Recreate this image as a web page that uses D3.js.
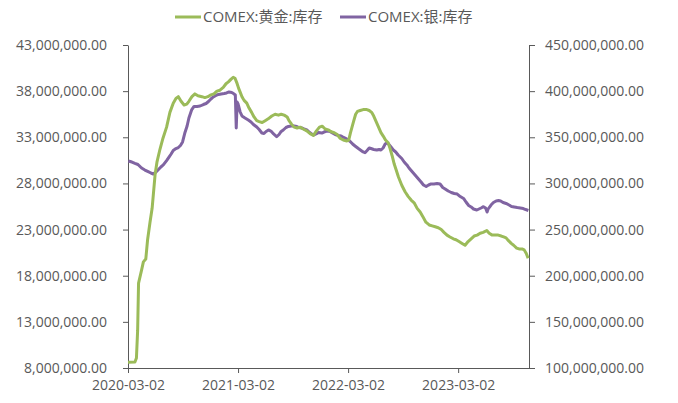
<!DOCTYPE html>
<html>
<head>
<meta charset="utf-8">
<script src="https://cdn.jsdelivr.net/npm/d3@7"></script>
<style>
  body { margin: 0; background: #fff; }
  text { font-family: "Open Sans", "Noto Sans CJK SC", sans-serif; fill: #595959; }
</style>
</head>
<body>
<svg id="chart"></svg>
<script>
// day offset from 2020-03-02, stock in millions
let baseDate = new Date(2020, 2, 2)
let endDay = 1330

let seriesNames = ["COMEX:黄金:库存", "COMEX:银:库存"]
let seriesColors = ["#9bbb59", "#8064a2"]

let goldStock = [[0,8.62],[23,8.65],[28,9.08],[32,12.1],[35,17.2],[45,18.6],[51,19.5],[59,19.8],[65,21.9],[73,23.8],
  [80,25.3],[90,29.0],[96,30.3],[106,31.7],[116,32.9],[128,34.1],[139,35.7],[150,36.7],[159,37.2],[167,37.4],
  [176,36.9],[186,36.5],[195,36.6],[202,36.9],[212,37.4],[222,37.7],[232,37.5],[245,37.4],[255,37.3],[265,37.4],
  [275,37.6],[285,37.7],[295,38.0],[305,38.1],[316,38.4],[325,38.8],[333,39.0],[342,39.3],[349,39.5],[355,39.4],
  [361,38.9],[367,38.3],[372,37.9],[378,37.4],[385,37.0],[394,36.7],[401,36.2],[410,35.7],[418,35.2],[427,34.8],
  [435,34.7],[445,34.6],[455,34.8],[465,35.0],[477,35.3],[488,35.5],[499,35.4],[508,35.5],[518,35.4],[528,35.2],
  [534,34.8],[543,34.4],[551,34.1],[561,34.0],[571,34.1],[581,33.9],[593,33.7],[604,33.4],[615,33.2],[625,33.7],
  [635,34.1],[644,34.2],[654,33.9],[664,33.8],[674,33.6],[684,33.5],[694,33.3],[703,32.9],[714,32.7],[726,32.6],
  [732,32.7],[738,33.5],[743,34.1],[748,34.7],[755,35.5],[761,35.8],[770,35.9],[780,36.0],[792,36.0],[800,35.9],
  [808,35.7],[815,35.3],[823,34.7],[831,34.1],[839,33.5],[847,33.1],[854,32.7],[863,32.4],[869,31.8],[876,31.0],
  [883,30.1],[889,29.5],[897,28.7],[908,27.8],[919,27.1],[929,26.6],[939,26.2],[949,25.9],[959,25.3],[969,24.9],
  [978,24.4],[988,23.8],[999,23.5],[1009,23.4],[1019,23.3],[1029,23.2],[1039,23.0],[1048,22.7],[1058,22.4],[1068,22.2],
  [1079,22.0],[1088,21.9],[1098,21.7],[1108,21.5],[1118,21.3],[1128,21.7],[1138,22.0],[1148,22.3],[1158,22.4],[1168,22.6],
  [1178,22.7],[1190,22.9],[1198,22.6],[1208,22.4],[1218,22.4],[1228,22.4],[1238,22.3],[1246,22.2],[1254,22.1],[1262,21.8],
  [1271,21.5],[1279,21.3],[1289,21.0],[1297,20.9],[1307,20.9],[1314,20.8],[1321,20.4],[1327,19.9]]

let silverStock = [[1,324.3],[13,323.2],[23,321.8],[33,320.5],[45,316.7],[56,314.5],[67,312.7],[76,311.3],[84,310.2],[93,312.4],
  [101,315.1],[109,317.8],[117,320.0],[128,324.8],[136,328.6],[143,331.9],[150,335.7],[159,337.8],[167,338.9],[174,341.1],
  [181,344.9],[189,355.2],[196,362.2],[202,370.9],[211,379.6],[219,383.4],[229,383.4],[239,383.9],[250,385.5],[259,386.6],
  [267,388.8],[275,391.5],[283,393.7],[292,395.3],[300,396.4],[309,396.9],[319,397.4],[327,398.0],[335,399.1],[344,398.5],
  [350,397.4],[356,395.8],[359,360.1],[362,388.2],[365,386.1],[372,377.4],[378,373.1],[388,370.9],[399,368.7],[408,366.6],
  [416,363.9],[427,361.1],[435,358.4],[444,354.6],[451,354.1],[458,356.3],[466,357.9],[474,356.8],[483,353.6],[493,350.6],
  [501,353.0],[508,356.3],[515,357.9],[524,360.6],[532,361.7],[541,362.2],[551,362.2],[560,361.7],[567,360.6],[576,360.1],
  [584,359.0],[593,357.9],[601,355.7],[607,354.1],[615,352.5],[624,353.6],[632,355.2],[643,354.6],[650,355.7],[660,356.8],
  [670,356.3],[678,354.6],[687,353.0],[698,351.9],[707,351.4],[713,350.3],[720,349.2],[728,347.6],[737,345.4],[745,342.7],
  [753,340.6],[764,337.8],[773,335.7],[780,334.1],[786,333.3],[793,335.7],[800,338.4],[806,337.8],[815,336.8],[825,336.2],
  [833,336.8],[839,336.2],[846,338.4],[853,342.7],[858,343.8],[864,342.7],[871,340.0],[880,336.2],[888,334.1],[896,330.8],
  [908,327.0],[916,323.2],[925,320.0],[932,316.7],[942,312.9],[952,309.1],[962,305.3],[972,301.5],[980,298.3],[989,296.7],
  [997,298.3],[1005,299.4],[1015,299.4],[1025,299.9],[1035,299.4],[1044,295.6],[1052,294.0],[1062,291.8],[1072,290.2],[1082,289.1],
  [1092,288.5],[1102,285.8],[1113,283.7],[1121,279.9],[1130,276.1],[1138,274.5],[1146,272.3],[1157,271.2],[1164,272.3],[1171,273.4],
  [1179,274.8],[1186,273.4],[1191,269.0],[1194,272.0],[1198,273.9],[1204,276.6],[1212,279.3],[1221,281.0],[1229,281.5],[1236,281.0],
  [1244,279.3],[1254,278.3],[1264,276.6],[1272,275.0],[1281,274.5],[1291,273.9],[1301,273.4],[1311,272.8],[1319,271.7],[1328,270.7]]

let xTickDates = ["2020-03-02", "2021-03-02", "2022-03-02", "2023-03-02"]
let leftTicks = [8e6, 13e6, 18e6, 23e6, 28e6, 33e6, 38e6, 43e6]
let rightTicks = [100e6, 150e6, 200e6, 250e6, 300e6, 350e6, 400e6, 450e6]

let w = 678, h = 403
let plotLeft = 128, plotRight = 529, plotTop = 45, plotBottom = 368

let svg = d3.select("#chart").attr("width", w).attr("height", h)

let parse = d3.timeParse("%Y-%m-%d")
let dayToDate = d => d3.timeDay.offset(baseDate, d)

let x = d3.scaleTime()
    .domain([baseDate, dayToDate(endDay)])
    .range([plotLeft, plotRight])
let yLeft = d3.scaleLinear().domain([8e6, 43e6]).range([plotBottom, plotTop])
let yRight = d3.scaleLinear().domain([100e6, 450e6]).range([plotBottom, plotTop])

let fmt = d3.format(",.2f")

function styleAxis(g) {
    g.select(".domain").attr("stroke", "#595959")
    g.selectAll(".tick line").attr("stroke", "#595959")
    g.selectAll(".tick text").style("font-size", "14px").attr("fill", "#595959")
        .style("font-family", "'Open Sans', sans-serif")
}

svg.append("g")
    .attr("transform", "translate(" + plotLeft + ",0)")
    .call(d3.axisLeft(yLeft).tickValues(leftTicks).tickFormat(fmt).tickSize(5).tickPadding(16).tickSizeOuter(0))
    .call(styleAxis)

svg.append("g")
    .attr("transform", "translate(" + plotRight + ",0)")
    .call(d3.axisRight(yRight).tickValues(rightTicks).tickFormat(fmt).tickSize(6).tickPadding(10).tickSizeOuter(0))
    .call(styleAxis)

svg.append("g")
    .attr("transform", "translate(0," + plotBottom + ")")
    .call(d3.axisBottom(x).tickValues(xTickDates.map(parse)).tickFormat(d3.timeFormat("%Y-%m-%d")).tickSize(5).tickPadding(7).tickSizeOuter(0))
    .call(styleAxis)

let goldLine = d3.line()
    .x(d => x(dayToDate(d[0])))
    .y(d => yLeft(d[1] * 1e6))

let silverLine = d3.line()
    .x(d => x(dayToDate(d[0])))
    .y(d => yRight(d[1] * 1e6))

svg.append("path")
    .datum(silverStock)
    .attr("d", silverLine)
    .attr("fill", "none")
    .attr("stroke", seriesColors[1])
    .attr("stroke-width", 3)
    .attr("stroke-linejoin", "round")

svg.append("path")
    .datum(goldStock)
    .attr("d", goldLine)
    .attr("fill", "none")
    .attr("stroke", seriesColors[0])
    .attr("stroke-width", 3)
    .attr("stroke-linejoin", "round")

// legend
let legendX = [175, 340]
let legend = svg.append("g")
seriesNames.forEach((name, i) => {
    legend.append("line")
        .attr("x1", legendX[i]).attr("x2", legendX[i] + 26)
        .attr("y1", 17).attr("y2", 17)
        .attr("stroke", seriesColors[i])
        .attr("stroke-width", 3)
    legend.append("text")
        .attr("x", legendX[i] + 28)
        .attr("y", 22)
        .style("font-size", "15px")
        .text(name)
})
</script>
</body>
</html>
